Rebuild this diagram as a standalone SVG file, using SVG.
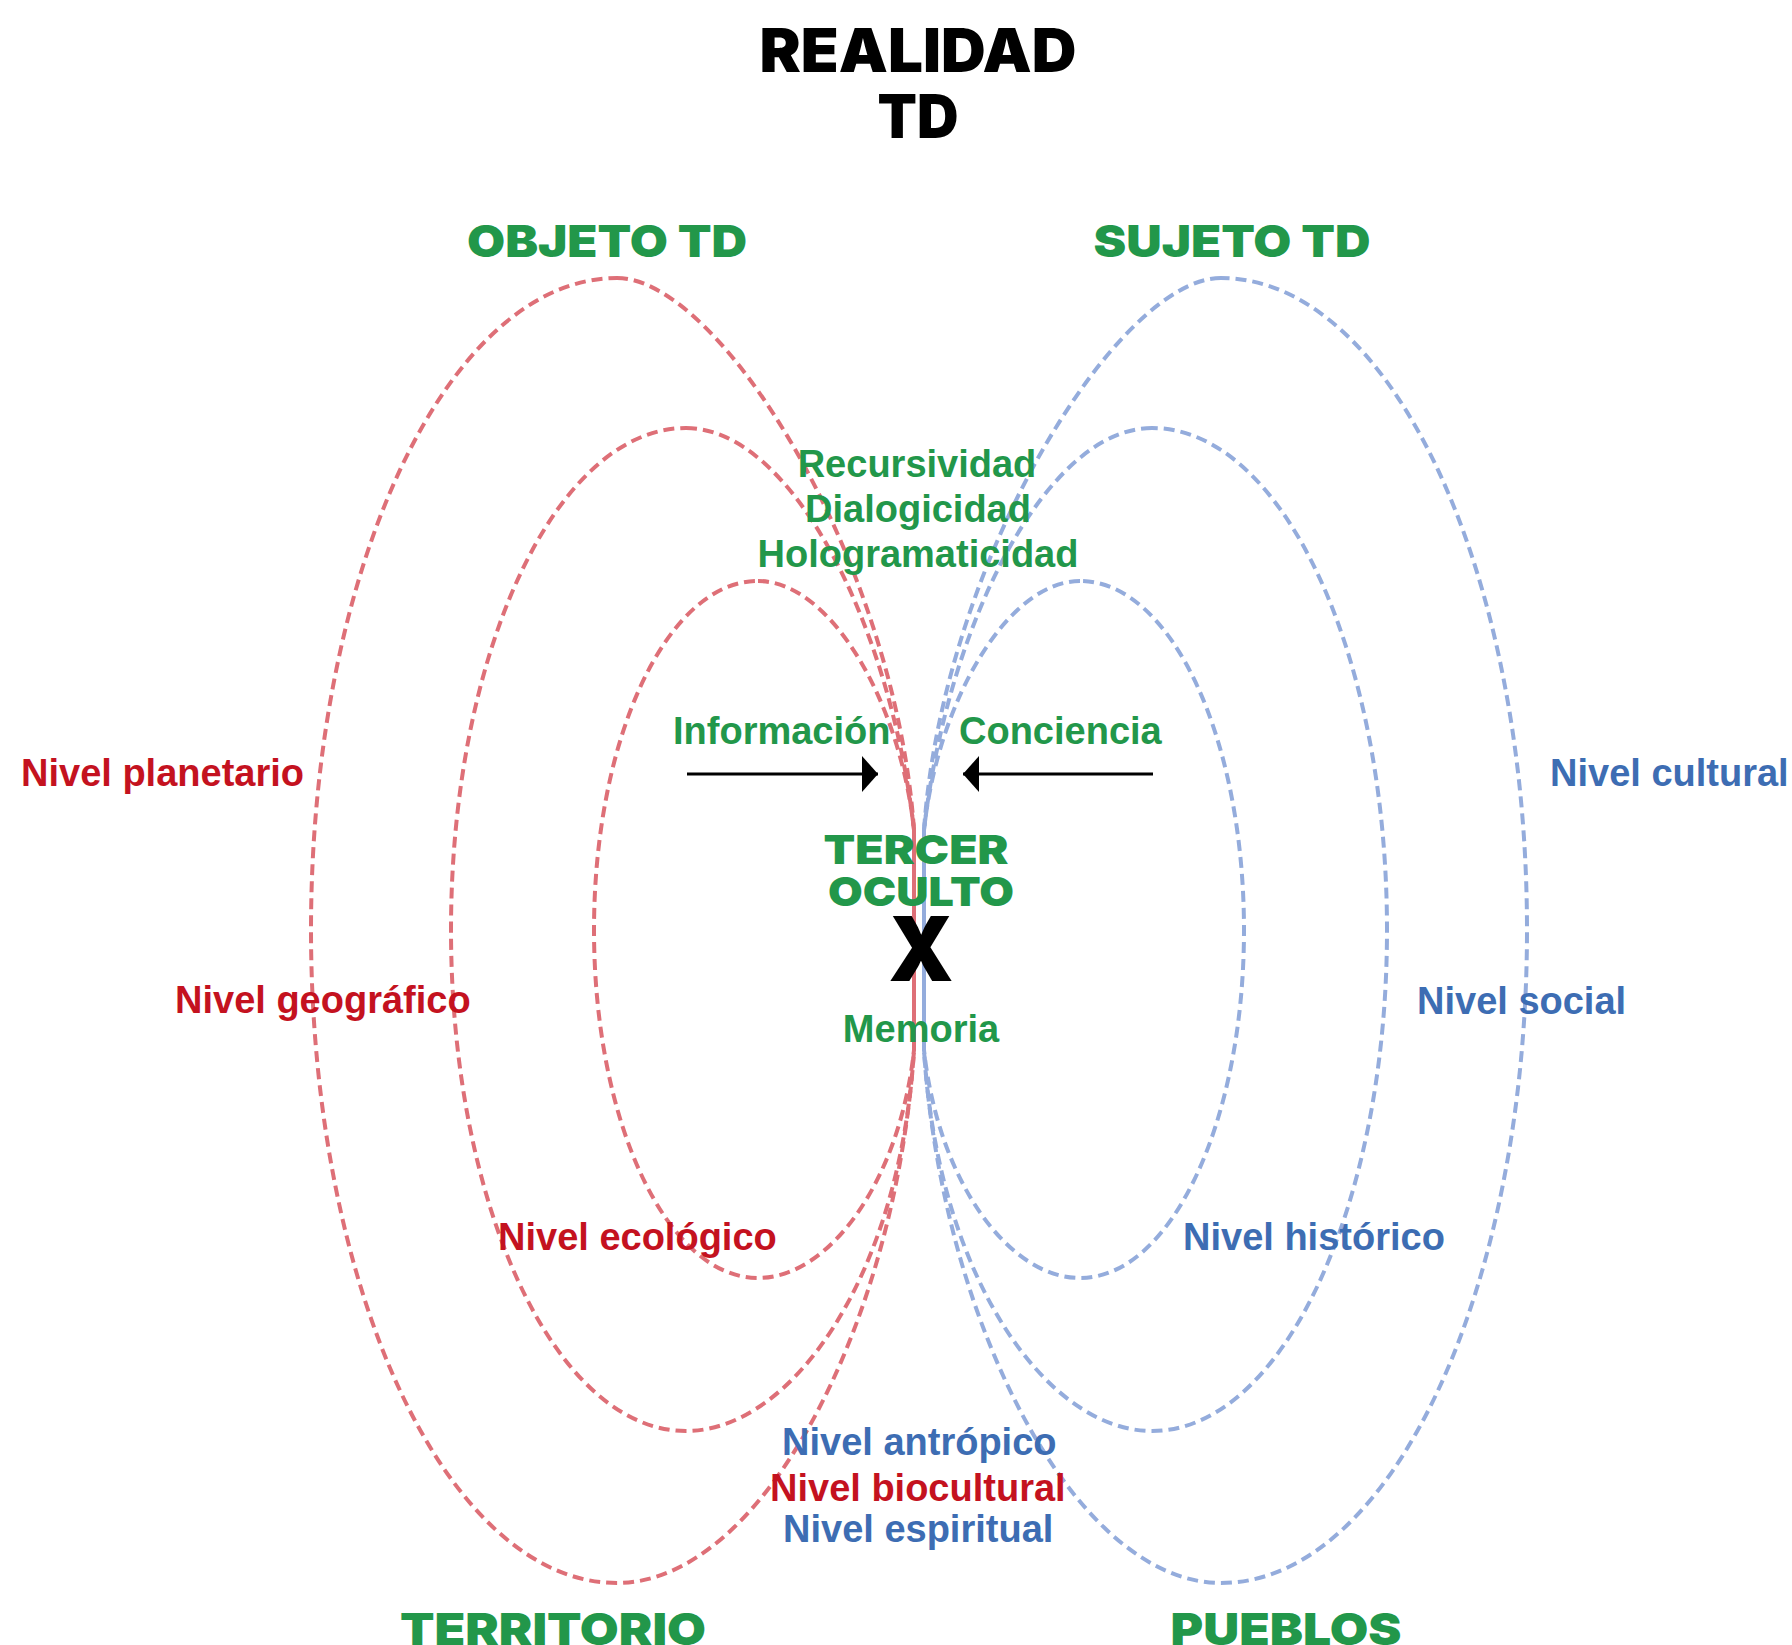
<svg xmlns="http://www.w3.org/2000/svg" width="1792" height="1645" viewBox="0 0 1792 1645">
<style>
.loop{fill:none;stroke-width:4;stroke-dasharray:11 6}
.red{stroke:#de6f77}
.blue{stroke:#94acdc}
.head{font-family:Inter,"DejaVu Sans",sans-serif;font-weight:900;text-anchor:middle}
.title{fill:#000;font-size:60px}
.gh{fill:#22974a;font-size:44px}
.body{font-family:"Liberation Sans",Arial,sans-serif;font-weight:bold;font-size:38px}
.g{fill:#22974a}
.rt{fill:#c4121f}
.bt{fill:#3d6db3}
.mid{text-anchor:middle}
.arrow{stroke:#000;stroke-width:3;fill:none}
</style>
<defs>
<marker id="ah" viewBox="0 0 16 36" refX="16" refY="18" markerWidth="16" markerHeight="36" markerUnits="userSpaceOnUse" orient="auto">
<path d="M0,0 L16,18 L0,36 Z" fill="#000"/>
</marker>
</defs>
<rect width="1792" height="1645" fill="#fff"/>

<g id="connectors">
<g id="objeto-loops">
<path id="loop-planetario" class="loop red" d="M617,278 C720,278 895,560 914,830 L914,1050 C895,1330 760,1583 617,1583 C448,1583 311,1291 311,930 C311,569 448,278 617,278 Z"/>
<path id="loop-geografico" class="loop red" d="M686,428 C790,428 890,620 914,830 L914,1050 C900,1280 790,1431 686,1431 C556,1431 451,1207 451,930 C451,653 556,428 686,428 Z"/>
<path id="loop-ecologico" class="loop red" d="M758,581 C830,581 900,700 914,830 L914,1050 C900,1180 830,1278 758,1278 C667,1278 594,1122 594,930 C594,738 667,581 758,581 Z"/>
</g>
<g id="sujeto-loops" transform="translate(1838,0) scale(-1,1)">
<path id="loop-cultural" class="loop blue" d="M617,278 C720,278 895,560 914,830 L914,1050 C895,1330 760,1583 617,1583 C448,1583 311,1291 311,930 C311,569 448,278 617,278 Z"/>
<path id="loop-social" class="loop blue" d="M686,428 C790,428 890,620 914,830 L914,1050 C900,1280 790,1431 686,1431 C556,1431 451,1207 451,930 C451,653 556,428 686,428 Z"/>
<path id="loop-historico" class="loop blue" d="M758,581 C830,581 900,700 914,830 L914,1050 C900,1180 830,1278 758,1278 C667,1278 594,1122 594,930 C594,738 667,581 758,581 Z"/>
</g>
<line id="arrow-informacion" class="arrow" x1="687" y1="774" x2="878" y2="774" marker-end="url(#ah)"/>
<line id="arrow-conciencia" class="arrow" x1="1153" y1="774" x2="963" y2="774" marker-end="url(#ah)"/>
</g>

<g id="title">
<text class="head title" x="918" y="72" textLength="317" lengthAdjust="spacingAndGlyphs">REALIDAD</text>
<text class="head title" x="918" y="138" textLength="81" lengthAdjust="spacingAndGlyphs">TD</text>
</g>

<g id="objeto"><text class="head gh" x="607" y="257" textLength="280" lengthAdjust="spacingAndGlyphs">OBJETO TD</text></g>
<g id="sujeto"><text class="head gh" x="1232" y="257" textLength="277" lengthAdjust="spacingAndGlyphs">SUJETO TD</text></g>
<g id="territorio"><text class="head gh" x="553" y="1645" textLength="306" lengthAdjust="spacingAndGlyphs">TERRITORIO</text></g>
<g id="pueblos"><text class="head gh" x="1286" y="1645" textLength="231" lengthAdjust="spacingAndGlyphs">PUEBLOS</text></g>

<g id="principios">
<text class="body g mid" x="917" y="477">Recursividad</text>
<text class="body g mid" x="918" y="522">Dialogicidad</text>
<text class="body g mid" x="918" y="567">Hologramaticidad</text>
</g>

<g id="informacion"><text class="body g" x="673" y="744">Información</text></g>
<g id="conciencia"><text class="body g" x="959" y="744">Conciencia</text></g>

<g id="tercer-oculto">
<text class="head g" x="916" y="864" font-size="40" textLength="185" lengthAdjust="spacingAndGlyphs">TERCER</text>
<text class="head g" x="921" y="906" font-size="40" textLength="186" lengthAdjust="spacingAndGlyphs">OCULTO</text>
<text class="head" x="921" y="981" font-size="90" fill="#000" textLength="65" lengthAdjust="spacingAndGlyphs">X</text>
</g>
<g id="memoria"><text class="body g mid" x="921" y="1042">Memoria</text></g>

<g id="nivel-planetario"><text class="body rt" x="21" y="786">Nivel planetario</text></g>
<g id="nivel-geografico"><text class="body rt" x="175" y="1013">Nivel geográfico</text></g>
<g id="nivel-ecologico"><text class="body rt" x="498" y="1250">Nivel ecológico</text></g>
<g id="nivel-cultural"><text class="body bt" x="1550" y="786">Nivel cultural</text></g>
<g id="nivel-social"><text class="body bt" x="1417" y="1014">Nivel social</text></g>
<g id="nivel-historico"><text class="body bt" x="1183" y="1250">Nivel histórico</text></g>
<g id="nivel-antropico"><text class="body bt" x="782" y="1455">Nivel antrópico</text></g>
<g id="nivel-biocultural"><text class="body rt" x="770" y="1501">Nivel biocultural</text></g>
<g id="nivel-espiritual"><text class="body bt" x="783" y="1542">Nivel espiritual</text></g>
</svg>
